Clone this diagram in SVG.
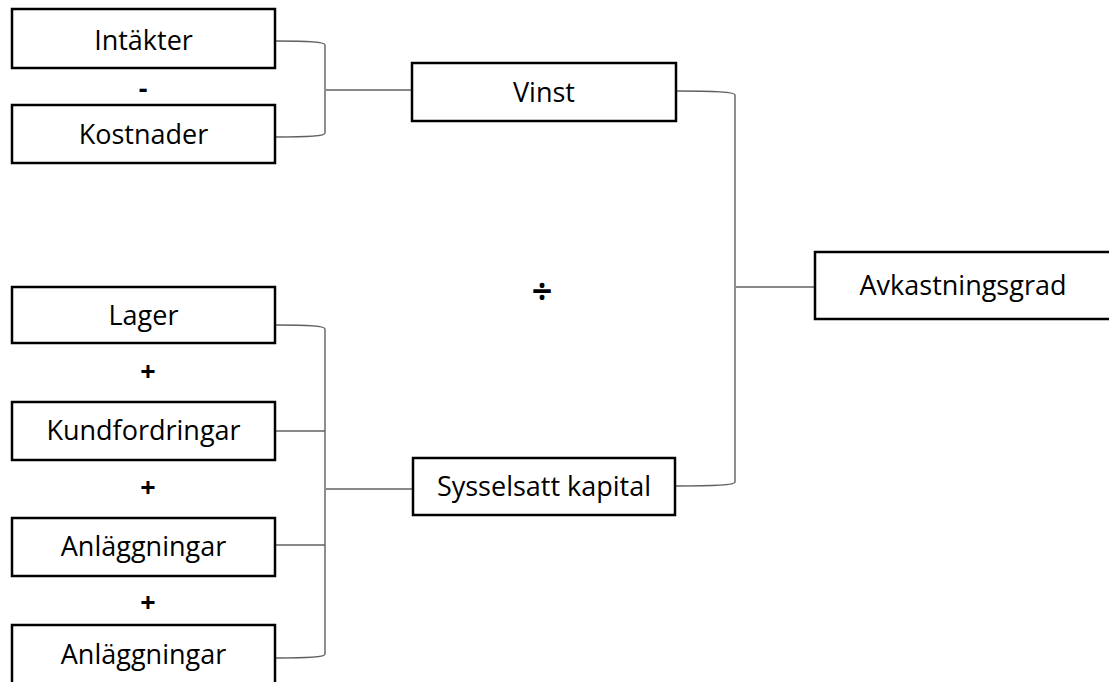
<svg xmlns="http://www.w3.org/2000/svg" width="1109" height="682" viewBox="0 0 1109 682">
  <style>
    .box { fill: #ffffff; stroke: #000000; stroke-width: 2.5; }
    .lbl { font-family: "Open Sans", "Liberation Sans", sans-serif; font-size: 27px; fill: #000000; text-anchor: middle; }
    .op { font-family: "Open Sans", "Liberation Sans", sans-serif; font-size: 27px; font-weight: bold; fill: #000000; text-anchor: middle; }
    .wire { fill: none; stroke: #606060; stroke-width: 1.4; }
  </style>
  <rect x="0" y="0" width="1109" height="682" fill="#ffffff"/>

  <!-- connectors -->
  <g id="connectors">
    <!-- Intäkter / Kostnader into Vinst -->
    <path class="wire" d="M276 41 C310 41 325 42 325 45 V133 C325 136 310 137 276 137"/>
    <path class="wire" d="M326 90 H412"/>
    <!-- Vinst / Sysselsatt kapital into Avkastningsgrad -->
    <path class="wire" d="M676 91 C715 91 735 92 735 95 V482 C735 485 715 486 676 486"/>
    <path class="wire" d="M736 287 H815"/>
    <!-- asset items into Sysselsatt kapital -->
    <path class="wire" d="M276 325 C310 325 325 326 325 329 V654 C325 657 310 658 276 658"/>
    <path class="wire" d="M276 431 H325"/>
    <path class="wire" d="M276 545 H325"/>
    <path class="wire" d="M326 489 H413"/>
  </g>

  <!-- operators -->
  <text class="op" x="143" y="98">-</text>
  <text class="op" x="148" y="381">+</text>
  <text class="op" x="148" y="497">+</text>
  <text class="op" x="148" y="612">+</text>
  <text class="op" x="542" y="304" style="font-size:36px">÷</text>

  <g id="intakter">
    <rect class="box" x="12" y="9" width="263" height="59"/>
    <text class="lbl" x="143.5" y="50">Intäkter</text>
  </g>
  <g id="kostnader">
    <rect class="box" x="12" y="105" width="263" height="58"/>
    <text class="lbl" x="143.5" y="144">Kostnader</text>
  </g>
  <g id="vinst">
    <rect class="box" x="412" y="63" width="264" height="58"/>
    <text class="lbl" x="544" y="102">Vinst</text>
  </g>
  <g id="avkastningsgrad">
    <rect class="box" x="815" y="252" width="300" height="67"/>
    <text class="lbl" x="963" y="295">Avkastningsgrad</text>
  </g>
  <g id="sysselsatt">
    <rect class="box" x="413" y="458" width="262" height="57"/>
    <text class="lbl" x="544" y="496">Sysselsatt kapital</text>
  </g>
  <g id="lager">
    <rect class="box" x="12" y="287" width="263" height="56"/>
    <text class="lbl" x="143.5" y="325">Lager</text>
  </g>
  <g id="kundfordringar">
    <rect class="box" x="12" y="402" width="263" height="58"/>
    <text class="lbl" x="143.5" y="440">Kundfordringar</text>
  </g>
  <g id="anlaggningar1">
    <rect class="box" x="12" y="518" width="263" height="58"/>
    <text class="lbl" x="143.5" y="556">Anläggningar</text>
  </g>
  <g id="anlaggningar2">
    <rect class="box" x="12" y="625" width="263" height="60"/>
    <text class="lbl" x="143.5" y="664">Anläggningar</text>
  </g>
</svg>
